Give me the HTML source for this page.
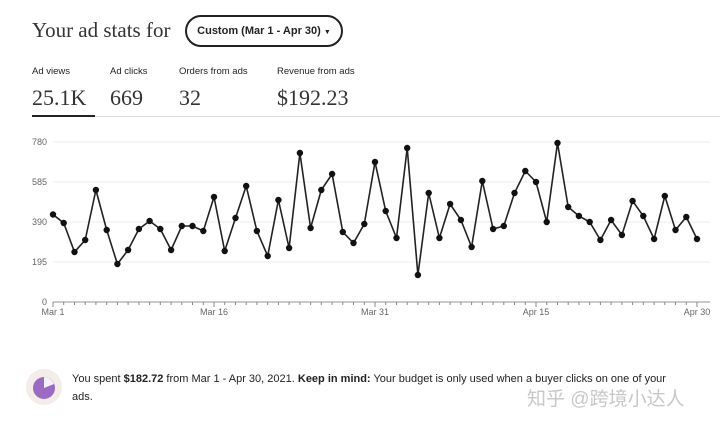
<!DOCTYPE html>
<html><head><meta charset="utf-8"><style>
body{margin:0;width:720px;height:425px;background:#fff;overflow:hidden;position:relative;font-family:"Liberation Sans",sans-serif;color:#222}
.a{position:absolute;white-space:nowrap}
.serif{font-family:"Liberation Serif",serif;color:#333}
</style></head><body>
<div class="a serif" style="left:32px;top:18px;font-size:21px">Your ad stats for</div>
<div class="a" style="left:185px;top:15px;width:154px;height:28px;border:2px solid #222;border-radius:16px;font-size:11px;line-height:28px;text-align:center;font-weight:600;color:#222">Custom (Mar 1 - Apr 30) <span style="font-size:7px">▼</span></div>
<div class="a" style="left:32px;top:66px;font-size:9.5px">Ad views</div>
<div class="a" style="left:110px;top:66px;font-size:9.5px">Ad clicks</div>
<div class="a" style="left:179px;top:66px;font-size:9.5px">Orders from ads</div>
<div class="a" style="left:277px;top:66px;font-size:9.5px">Revenue from ads</div>
<div class="a serif" style="left:32px;top:85px;font-size:22px">25.1K</div>
<div class="a serif" style="left:110px;top:85px;font-size:22px">669</div>
<div class="a serif" style="left:179px;top:85px;font-size:22px">32</div>
<div class="a serif" style="left:277px;top:85px;font-size:22px">$192.23</div>
<div class="a" style="left:32px;top:116px;width:688px;height:1px;background:#ddd"></div>
<div class="a" style="left:32px;top:115px;width:63px;height:2px;background:#222"></div>
<svg class="a" style="left:0;top:0" width="720" height="425">
<g stroke="#eee" stroke-width="1">
<line x1="53" y1="142" x2="710" y2="142"/><line x1="53" y1="182" x2="710" y2="182"/><line x1="53" y1="222" x2="710" y2="222"/><line x1="53" y1="262" x2="710" y2="262"/>
</g>
<line x1="53" y1="302" x2="710" y2="302" stroke="#aaa" stroke-width="1.2"/>
<g id="ticks" stroke="#888" stroke-width="1"></g>
<g font-size="9" fill="#666">
<text x="47" y="145" text-anchor="end">780</text><text x="47" y="185" text-anchor="end">585</text><text x="47" y="225" text-anchor="end">390</text><text x="47" y="265" text-anchor="end">195</text><text x="47" y="305" text-anchor="end">0</text>
<text x="53" y="315" text-anchor="middle">Mar 1</text><text x="214" y="315" text-anchor="middle">Mar 16</text><text x="375" y="315" text-anchor="middle">Mar 31</text><text x="536" y="315" text-anchor="middle">Apr 15</text><text x="697" y="315" text-anchor="middle">Apr 30</text>
</g>
<polyline id="ln" fill="none" stroke="#222" stroke-width="1.6"/>
<g id="dots" fill="#111"></g>
<circle cx="44" cy="387" r="18" fill="#f3ece9"/>
<circle cx="44" cy="388" r="11" fill="#9b6bc4"/>
<path d="M44 388 L44 377 A11 11 0 0 1 54 384 Z" fill="#fff" opacity="0.9"/>
</svg>
<div class="a" style="left:72px;top:373px;font-size:11px;color:#222">You spent <b>$182.72</b> from Mar 1 - Apr 30, 2021. <b>Keep in mind:</b> Your budget is only used when a buyer clicks on one of your</div>
<div class="a" style="left:72px;top:391px;font-size:11px;color:#222">ads.</div>
<div class="a" style="left:527px;top:384px;font-size:19px;color:#c8c8c8;font-family:'Liberation Sans','Noto Sans CJK SC',sans-serif">知乎 @跨境小达人</div>
<script>
var ys=[214.5,223,252,240,190,230,264,250,229,221,229,250,226,226,231,197,251,218,186,231,256,200,248,153,228,190,174,232,243,224,162,211,238,148,275,193,238,204,220,247,181,229,226,193,171,182,222,143,207,216,222,240,220,235,201,216,239,196,230,217,239];
var pts=[],d="",t="";
for(var i=0;i<61;i++){var x=53+i*644/60;pts.push(x.toFixed(1)+","+ys[i]);d+='<circle cx="'+x.toFixed(1)+'" cy="'+ys[i]+'" r="3.2"/>';t+='<line x1="'+x.toFixed(1)+'" y1="302" x2="'+x.toFixed(1)+'" y2="'+(i%15==0?307:305)+'"/>';}
document.getElementById('ln').setAttribute('points',pts.join(' '));
document.getElementById('dots').innerHTML=d;document.getElementById('ticks').innerHTML=t;
</script>
</body></html>
